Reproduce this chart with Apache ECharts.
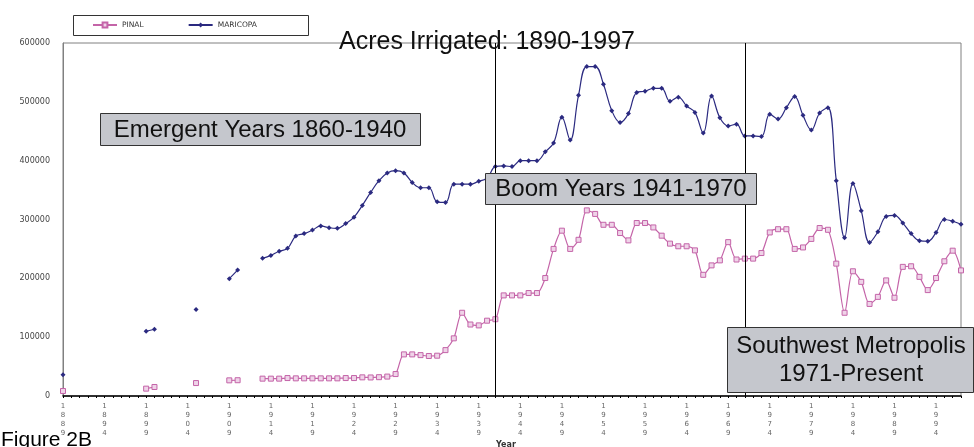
<!DOCTYPE html>
<html>
<head>
<meta charset="utf-8">
<script src="https://cdn.jsdelivr.net/npm/echarts@6/dist/echarts.min.js"></script>
<style>
  html, body { margin: 0; padding: 0; background: #fff; }
  #myChart { width: 974px; height: 447px; }
</style>
</head>
<body>
<div id="myChart"></div>
<script>
// years 1889 - 1997, one category per year
var years = [];
for (var y = 1889; y <= 1997; y++) years.push(String(y));

var yTicks = [0, 100000, 200000, 300000, 400000, 500000, 600000];

var maricopa = [
  36000, null, null, null, null, null, null, null, null, null,          // 1889-1898
  110000, 113500, null, null, null, null, 147000, null, null, null,     // 1899-1908
  199500, 214000, null, null, 234000, 239000, 246000, 251000, 272000, 276000, // 1909-1918
  282000, 289000, 286000, 285000, 293000, 304000, 324000, 346000, 366000, 379000, // 1919-1928
  383000, 379000, 363000, 354000, 354000, 330000, 329000, 360000, 360000, 360000, // 1929-1938
  365000, 370000, 390000, 391000, 390000, 400000, 400000, 400000, 415000, 430000, // 1939-1948
  474000, 435000, 511000, 560000, 560000, 530000, 485000, 465000, 480000, 516000, // 1949-1958
  518000, 523000, 523000, 501000, 508000, 493000, 482000, 447000, 510000, 473000, // 1959-1968
  459000, 462000, 442000, 442000, 441000, 479000, 471000, 490000, 509000, 477000, // 1969-1978
  452000, 481000, 490000, 366000, 269000, 361000, 315000, 261000, 279000, 305000, // 1979-1988
  307000, 294000, 276000, 264000, 263000, 278000, 300000, 297000, 292000          // 1989-1997
];

var pinal = [
  8500, null, null, null, null, null, null, null, null, null,
  12500, 15300, null, null, null, null, 22000, null, null, null,
  26600, 26800, null, null, 29500, 29500, 29500, 30500, 30000, 30000,
  30000, 30000, 30000, 30000, 30500, 30500, 31700, 31500, 32000, 33000,
  37300, 70700, 70700, 69500, 68000, 68500, 78000, 98000, 141500, 121500,
  120000, 128000, 130500, 171000, 171000, 171000, 175000, 175000, 200500, 250000,
  281000, 250000, 265500, 315500, 309500, 291000, 291000, 277000, 264500, 294000,
  294000, 286500, 272500, 259000, 254500, 254500, 247500, 206000, 222000, 230500,
  261500, 232000, 233500, 233500, 243000, 278000, 283500, 283500, 250000, 252500,
  267000, 285500, 282500, 225000, 141500, 212000, 194000, 156500, 168500, 196500,
  167000, 219500, 220500, 202500, 180000, 200500, 229000, 247000, 213500
];

var eraLines = ['1941', '1971'];

var myChart = echarts.init(document.getElementById('myChart'));

var boxFill = '#c5c7cd';
var boxFont = '24px "Liberation Sans", Arial, sans-serif';

var option = {
  animation: false,
  backgroundColor: '#fff',
  title: {
    text: 'Acres Irrigated: 1890-1997',
    left: 'center',
    top: 30,
    padding: 0,
    textStyle: {
      fontFamily: '"Liberation Sans", Arial, sans-serif',
      fontWeight: 'normal',
      fontSize: 25,
      color: '#111'
    }
  },
  legend: {
    left: 92,
    top: 21,
    padding: 0,
    itemWidth: 24,
    itemHeight: 6,
    itemGap: 44,
    textStyle: { fontSize: 7.5, color: '#333', fontFamily: '"DejaVu Sans", sans-serif' },
    data: ['PINAL', 'MARICOPA']
  },
  grid: {
    left: 63,
    right: 13,
    top: 43,
    bottom: 51,
    show: true,
    borderColor: '#808080',
    borderWidth: 1
  },
  xAxis: {
    type: 'category',
    data: years,
    boundaryGap: false,
    axisLine: { lineStyle: { color: '#000', width: 1.5 } },
    axisTick: { show: true, interval: 0, length: 2, lineStyle: { color: '#000' } },
    axisLabel: {
      interval: function (i) { return i % 5 === 0; },
      formatter: function (v) { return v.split('').join('\n'); },
      fontSize: 7,
      lineHeight: 9,
      color: '#666',
      margin: 6,
      fontFamily: '"DejaVu Sans", sans-serif'
    },
    splitLine: { show: false }
  },
  yAxis: {
    type: 'value',
    min: yTicks[0],
    max: yTicks[yTicks.length - 1],
    interval: yTicks[1] - yTicks[0],
    axisLine: { show: true, lineStyle: { color: '#808080' } },
    axisTick: { show: false },
    splitLine: { show: false },
    axisLabel: {
      formatter: function (v) { return String(v); },
      fontSize: 8,
      color: '#444',
      margin: 13,
      fontFamily: '"DejaVu Sans", sans-serif'
    }
  },
  series: [
    {
      name: 'PINAL',
      type: 'line',
      data: pinal,
      smooth: 0.3,
      symbol: 'rect',
      symbolSize: 5,
      showAllSymbol: true,
      lineStyle: { color: '#c464a8', width: 1.2 },
      itemStyle: { color: '#efd3e8', borderColor: '#c464a8', borderWidth: 1 }
    },
    {
      name: 'MARICOPA',
      type: 'line',
      data: maricopa,
      smooth: 0.4,
      symbol: 'diamond',
      symbolSize: 5,
      showAllSymbol: true,
      lineStyle: { color: '#2b2a80', width: 1.2 },
      itemStyle: { color: '#2b2a80' },
      markLine: {
        silent: true,
        symbol: ['none', 'none'],
        label: { show: false },
        lineStyle: { color: '#000', width: 1, type: 'solid' },
        data: eraLines.map(function (yr) { return { xAxis: yr }; })
      }
    }
  ],
  graphic: [
    // legend frame
    { type: 'rect', shape: { x: 73.5, y: 15.5, width: 235, height: 20 },
      style: { fill: 'none', stroke: '#333', lineWidth: 1 }, z: 10 },
    // era boxes
    { type: 'rect', shape: { x: 100.5, y: 113.5, width: 320, height: 32 },
      style: { fill: boxFill, stroke: '#333', lineWidth: 1 }, z: 20 },
    { type: 'text', x: 260, y: 130, z: 21,
      style: { text: 'Emergent Years 1860-1940', font: boxFont, fill: '#111', textAlign: 'center', textVerticalAlign: 'middle' } },
    { type: 'rect', shape: { x: 485.5, y: 173.5, width: 271, height: 31 },
      style: { fill: boxFill, stroke: '#333', lineWidth: 1 }, z: 20 },
    { type: 'text', x: 621, y: 189.5, z: 21,
      style: { text: 'Boom Years 1941-1970', font: boxFont, fill: '#111', textAlign: 'center', textVerticalAlign: 'middle' } },
    { type: 'rect', shape: { x: 727.5, y: 327.5, width: 246, height: 65 },
      style: { fill: boxFill, stroke: '#333', lineWidth: 1 }, z: 20 },
    { type: 'text', x: 851, y: 360, z: 21,
      style: { text: 'Southwest Metropolis\n1971-Present', font: boxFont, lineHeight: 28, fill: '#111', textAlign: 'center', textVerticalAlign: 'middle' } },
    // axis caption and figure label
    { type: 'text', x: 496, y: 441, z: 10,
      style: { text: 'Year', font: 'bold 8px "DejaVu Sans", sans-serif', fill: '#333' } },
    { type: 'text', x: 1, y: 430, z: 10,
      style: { text: 'Figure 2B', font: '21px "Liberation Sans", Arial, sans-serif', fill: '#000' } }
  ]
};

myChart.setOption(option);
</script>
</body>
</html>
